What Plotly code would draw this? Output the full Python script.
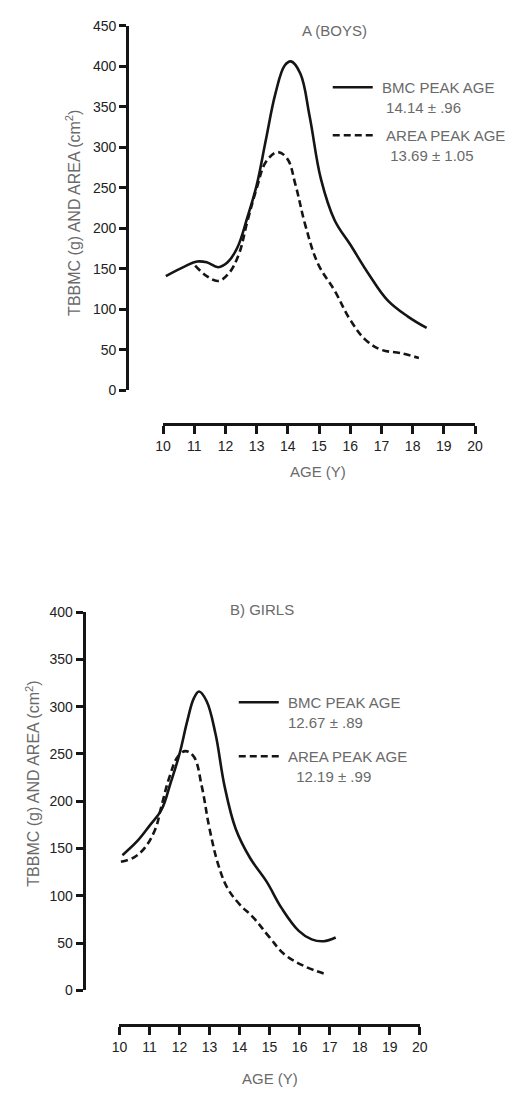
import plotly.graph_objects as go

# ---------------- data ----------------
boys_bmc_age = [10.09, 10.7, 11.09, 11.4, 11.77, 12.07, 12.38, 12.7, 13.0, 13.3, 13.6, 13.9, 14.1,
                14.4, 14.7, 15.06, 15.5, 16.0, 16.6, 17.2, 17.85, 18.45]
boys_bmc = [141, 153, 159, 158, 152, 158, 176, 213, 253, 310, 366, 401, 406,
            391, 338, 261, 210, 180, 143, 111, 91, 77]

boys_area_age = [11.03, 11.4, 11.77, 12.1, 12.43, 12.7, 13.0, 13.3, 13.67, 13.98, 14.25, 14.56, 14.97,
                 15.5, 16.0, 16.5, 17.0, 17.6, 18.2]
boys_area = [154, 141, 135, 144, 168, 208, 249, 282, 294, 286, 253, 204, 156,
             123, 87, 62, 50, 46, 40]

girls_bmc_age = [10.1, 10.6, 11.0, 11.4, 11.7, 12.0, 12.26, 12.48, 12.65, 12.9, 13.2, 13.5, 13.87,
                 14.35, 14.9, 15.4, 15.97, 16.4, 16.8, 17.2]
girls_bmc = [143, 158, 174, 191, 219, 250, 285, 309, 316, 306, 271, 216, 171,
             140, 115, 87, 63, 54, 52, 56]

girls_area_age = [10.05, 10.5, 10.85, 11.2, 11.4, 11.67, 11.94, 12.2, 12.48, 12.74, 13.0, 13.3, 13.6,
                  14.0, 14.46, 15.0, 15.5, 16.2, 16.8]
girls_area = [136, 141, 151, 171, 195, 226, 247, 253, 247, 216, 171, 132, 108,
              91, 77, 56, 38, 25, 18]

x_ticks = list(range(10, 21))
boys_y_ticks = list(range(0, 451, 50))
girls_y_ticks = list(range(0, 401, 50))

NB = "\u00a0"
boys_labels = [NB + "BMC PEAK AGE<br>" + NB * 2 + "14.14 \u00b1 .96",
               NB * 2 + "AREA PEAK AGE<br>" + NB * 3 + "13.69 \u00b1 1.05"]
girls_labels = [NB + "BMC PEAK AGE<br>" + NB + "12.67 \u00b1 .89",
                NB + "AREA PEAK AGE<br>" + NB * 3 + "12.19 \u00b1 .99"]

# ---------------- figure ----------------
W, H = 515, 1095
FONT = "Liberation Sans, Arial, sans-serif"
TXT = "#6a6a6a"
INK = "#151515"


def px(v):
    return v / W


def py(v):
    return 1 - v / H


fig = go.Figure()

solid = dict(color=INK, width=2.6, shape="spline", smoothing=1.1)
dashed = dict(color=INK, width=2.6, shape="spline", smoothing=1.1, dash="7px,4px")

fig.add_trace(go.Scatter(x=boys_bmc_age, y=boys_bmc, mode="lines", line=solid, name=boys_labels[0],
                         xaxis="x", yaxis="y", legend="legend", legendgroup="b1"))
fig.add_trace(go.Scatter(x=boys_area_age, y=boys_area, mode="lines", line=dashed, name=boys_labels[1],
                         xaxis="x", yaxis="y", legend="legend", legendgroup="b2"))
fig.add_trace(go.Scatter(x=girls_bmc_age, y=girls_bmc, mode="lines", line=solid, name=girls_labels[0],
                         xaxis="x2", yaxis="y2", legend="legend2", legendgroup="g1"))
fig.add_trace(go.Scatter(x=girls_area_age, y=girls_area, mode="lines", line=dashed, name=girls_labels[1],
                         xaxis="x2", yaxis="y2", legend="legend2", legendgroup="g2"))

axis_common = dict(showgrid=False, zeroline=False, showline=True, linecolor=INK, linewidth=3,
                   ticks="outside", tickcolor=INK, tickwidth=2.5, fixedrange=True)

fig.update_layout(
    width=W, height=H,
    margin=dict(l=0, r=0, t=0, b=0),
    paper_bgcolor="white", plot_bgcolor="white",
    font=dict(family=FONT, color=TXT),
    xaxis=dict(domain=[px(160), px(482)], range=[10, 20], anchor="free", position=py(422),
               tickvals=x_ticks, ticklen=8, tickfont=dict(size=14, color="#222"), **axis_common),
    yaxis=dict(domain=[py(388), py(18)], range=[0, 450], anchor="free", position=px(123),
               tickvals=boys_y_ticks, ticklen=7, tickfont=dict(size=14, color="#222"), **axis_common),
    xaxis2=dict(domain=[px(115), px(425)], range=[10, 20], anchor="free", position=py(1032),
                tickvals=x_ticks, ticklen=8, tickfont=dict(size=14, color="#222"), **axis_common),
    yaxis2=dict(domain=[py(997), py(613)], range=[0, 400], anchor="free", position=px(78),
                tickvals=girls_y_ticks, ticklen=7, tickfont=dict(size=14, color="#222"), **axis_common),
    legend=dict(x=px(330), y=py(64), xanchor="left", yanchor="top", valign="top",
                traceorder="grouped", tracegroupgap=6, itemwidth=40,
                font=dict(size=15, color=TXT, family=FONT), bgcolor="rgba(0,0,0,0)"),
    legend2=dict(x=px(233), y=py(688), xanchor="left", yanchor="top", valign="top",
                 traceorder="grouped", tracegroupgap=12, itemwidth=40,
                 font=dict(size=15, color=TXT, family=FONT), bgcolor="rgba(0,0,0,0)"),
    showlegend=True,
)

ann = [
    dict(text="A (BOYS)", x=px(337), y=py(23), font=dict(size=15)),
    dict(text="AGE (Y)", x=px(320), y=py(470), font=dict(size=15)),
    dict(text="TBBMC (g) AND AREA (cm<sup>2</sup>)", x=px(67), y=py(208), textangle=-90, font=dict(size=16)),
    dict(text="B) GIRLS", x=px(262), y=py(610), font=dict(size=15)),
    dict(text="AGE (Y)", x=px(270), y=py(1086), font=dict(size=15)),
    dict(text="TBBMC (g) AND AREA (cm<sup>2</sup>)", x=px(25), y=py(787), textangle=-90, font=dict(size=16)),
]
for a in ann:
    fig.add_annotation(xref="paper", yref="paper", showarrow=False, xanchor="center", yanchor="middle",
                       font_color=TXT, **a)

fig.write_html("out.html")
